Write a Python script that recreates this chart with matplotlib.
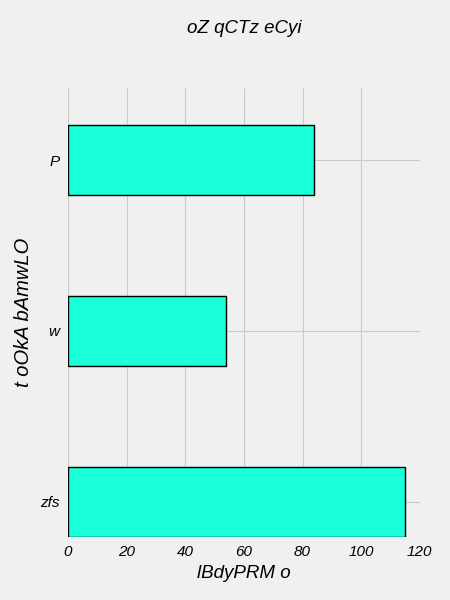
import matplotlib.pyplot as plt

# Data
categories = ["zfs", "w", "P"]
values = [115, 54, 84]

plt.style.use("fivethirtyeight")
plt.rcParams["font.family"] = ["Liberation Sans", "DejaVu Sans"]
plt.rcParams["font.style"] = "italic"

fig = plt.figure(figsize=(4.5, 6), dpi=100)
fig.patch.set_facecolor("#f0f0f0")
ax = fig.add_axes([0.151, 0.105, 0.782, 0.748])
ax.set_facecolor("#f0f0f0")

ax.barh(categories, values, height=0.41, color="#19ffd8", edgecolor="black", linewidth=1)

ax.set_xlim(0, 120)
ax.set_ylim(-0.205, 2.42)
ax.set_xticks([0, 20, 40, 60, 80, 100, 120])
ax.tick_params(axis="both", labelsize=11, length=0, pad=6)
ax.grid(True, color="#cbcbcb", linewidth=0.8)
ax.set_axisbelow(True)
for s in ax.spines.values():
    s.set_visible(False)

ax.set_xlabel("lBdyPRM o", fontsize=13.5, style="italic", labelpad=4)
ax.set_ylabel("t oOkA bAmwLO", fontsize=14.5, style="italic", labelpad=5)
fig.text(0.542, 0.953, "oZ qCTz eCyi", fontsize=13.5, style="italic",
         ha="center", va="center")

fig.savefig("out.png", dpi=100, facecolor=fig.get_facecolor())
